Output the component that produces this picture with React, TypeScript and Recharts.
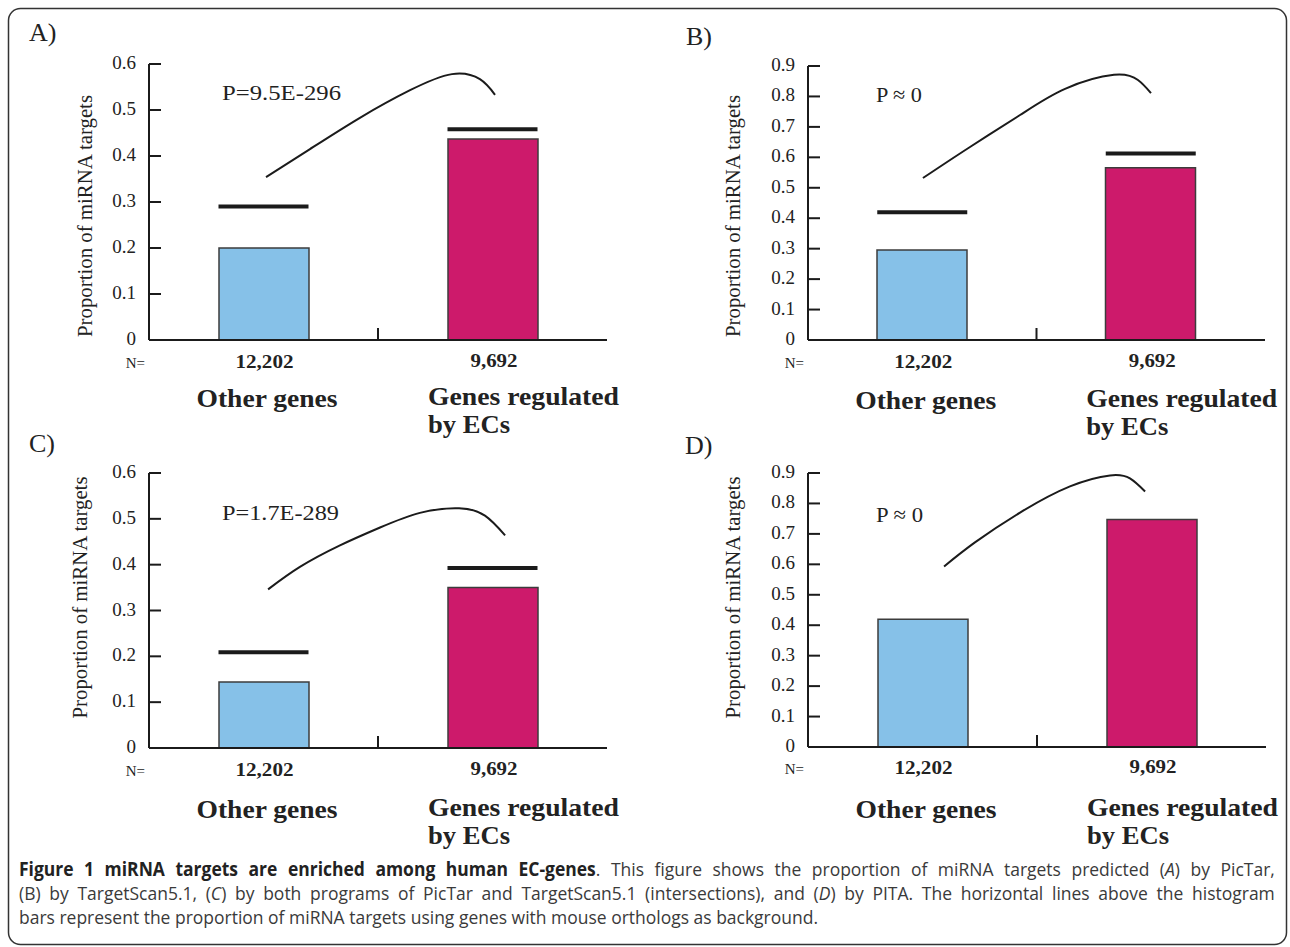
import React from 'react';
import { ComposedChart, Bar, Cell, Scatter, XAxis, YAxis } from 'recharts';

const SERIF = '"Liberation Serif", "Times New Roman", serif';
const SANS = '"Open Sans", "Noto Sans", sans-serif';
const INK = '#1b1b1b';
const BLUE = '#86C1E8';
const RED = '#CD1A6B';

const panelTags = ['A)', 'B)', 'C)', 'D)'];
const categories = ['Other genes', 'Genes regulated by ECs'];
const geneCounts = ['12,202', '9,692'];
const pLabels = ['P=9.5E-296', 'P \u2248 0', 'P=1.7E-289', 'P \u2248 0'];
const yLabel = 'Proportion of miRNA targets';
const yTicksLow = [0, 0.1, 0.2, 0.3, 0.4, 0.5, 0.6];
const yTicksHigh = [0, 0.1, 0.2, 0.3, 0.4, 0.5, 0.6, 0.7, 0.8, 0.9];
const panelTicks = [yTicksLow, yTicksHigh, yTicksLow, yTicksHigh];

// proportion of miRNA targets, human genes as background
const otherShare = [0.2, 0.296, 0.144, 0.42];
const ecShare = [0.437, 0.566, 0.35, 0.747];
// same with mouse orthologs as background (panel D has none)
const otherMouse = [0.29, 0.42, 0.209, null];
const ecMouse = [0.458, 0.613, 0.393, null];

// the arc joining the two bars; x runs 0..2 with the bars at 0.5 and 1.5
const arcA = [[0.511, 0.354], [0.703, 0.415], [0.921, 0.483], [1.14, 0.543], [1.323, 0.578], [1.445, 0.567], [1.511, 0.533]];
const arcB = [[0.503, 0.532], [0.709, 0.634], [0.928, 0.739], [1.125, 0.825], [1.339, 0.871], [1.444, 0.854], [1.501, 0.811]];
const arcC = [[0.52, 0.346], [0.659, 0.395], [0.834, 0.442], [1.009, 0.481], [1.183, 0.513], [1.354, 0.523], [1.467, 0.507], [1.555, 0.464]];
const arcD = [[0.594, 0.593], [0.729, 0.672], [0.926, 0.77], [1.144, 0.856], [1.319, 0.892], [1.406, 0.882], [1.472, 0.839]];
const arcs = [arcA, arcB, arcC, arcD];

const frames = [
  { left: 0, top: 0, margin: { top: 64, right: 38, bottom: 0, left: 89 }, countDy: 27.5, nameDy: 67,
    tag: [29, 41], label: [85, 216], p: [222, 100, 119] },
  { left: 645, top: 0, margin: { top: 66, right: 25, bottom: 0, left: 103 }, countDy: 28, nameDy: 68.5,
    tag: [686, 45], label: [733, 216], p: [876, 101.5, 46] },
  { left: 0, top: 430, margin: { top: 43, right: 38, bottom: 22, left: 89 }, countDy: 28, nameDy: 69.5,
    tag: [29, 452], label: [80, 597.5], p: [222, 520, 117] },
  { left: 645, top: 430, margin: { top: 43, right: 24, bottom: 23, left: 103 }, countDy: 27, nameDy: 70.5,
    tag: [685, 454], label: [733, 597.5], p: [876, 521.5, 47] },
];

const YTick = ({ x, y, payload }: any) => (
  <g>
    <line x1={x + 13} x2={x + 25} y1={y} y2={y} stroke={INK} strokeWidth={2} />
    <text x={x} y={y + 5} textAnchor="end" fontFamily={SERIF} fontSize={19} fill="#222">
      {payload.value}
    </text>
  </g>
);

const XTick = ({ x, y, payload, index, frame }: any) => {
  const half = payload.offset || 114.5;
  const bold = { fontFamily: SERIF, fontWeight: 'bold' as const, fill: '#222', lengthAdjust: 'spacingAndGlyphs' };
  if (index === 0) {
    return (
      <g>
        <line x1={x + half} x2={x + half} y1={y} y2={y - 12} stroke={INK} strokeWidth={2} />
        <text x={x - half - 4} y={y + frame.countDy} textAnchor="end" fontFamily={SERIF} fontSize={15} fill="#222">N=</text>
        <text {...bold} x={x + 1} y={y + frame.countDy} textAnchor="middle" fontSize={19} textLength={58}>{geneCounts[0]}</text>
        <text {...bold} x={x + 3.5} y={y + frame.nameDy} textAnchor="middle" fontSize={26} textLength={141}>{categories[0]}</text>
      </g>
    );
  }
  const cut = categories[1].indexOf(' by ');
  return (
    <g>
      <text {...bold} x={x + 1.5} y={y + frame.countDy - 1} textAnchor="middle" fontSize={19} textLength={47}>{geneCounts[1]}</text>
      <text {...bold} x={x - 64.5} y={y + frame.nameDy - 2} fontSize={26} textLength={191}>{categories[1].slice(0, cut)}</text>
      <text {...bold} x={x - 64.5} y={y + frame.nameDy + 26} fontSize={26} textLength={82}>{categories[1].slice(cut + 1)}</text>
    </g>
  );
};

function Panel({ i }: { i: number }) {
  const f = frames[i];
  const rows = [
    { name: categories[0], value: otherShare[i], bg: otherMouse[i] },
    { name: categories[1], value: ecShare[i], bg: ecMouse[i] },
  ];
  const arc = arcs[i].map(([x, y]) => ({ x, y }));
  const ticks = panelTicks[i];
  return (
    <div style={{ position: 'absolute', left: f.left, top: f.top }}>
      <ComposedChart width={645} height={440} data={rows} margin={f.margin}>
        <XAxis
          dataKey="name"
          type="category"
          height={100}
          interval={0}
          tickSize={0}
          tickMargin={0}
          tickLine={false}
          axisLine={{ stroke: INK, strokeWidth: 2 }}
          tick={(p: any) => <XTick {...p} frame={f} />}
        />
        <XAxis xAxisId="arc" type="number" dataKey="x" domain={[0, 2]} allowDataOverflow hide />
        <YAxis
          type="number"
          domain={[0, ticks[ticks.length - 1]]}
          ticks={ticks}
          width={60}
          interval={0}
          tickSize={0}
          tickMargin={13}
          tickLine={false}
          axisLine={{ stroke: INK, strokeWidth: 2 }}
          tick={(p: any) => <YTick {...p} />}
        />
        <Bar dataKey="value" barSize={90} stroke="#3c3c3c" strokeWidth={1.5} isAnimationActive={false}>
          {rows.map((r, k) => (
            <Cell key={r.name} fill={k === 0 ? BLUE : RED} />
          ))}
        </Bar>
        <Scatter
          dataKey="bg"
          isAnimationActive={false}
          shape={(p: any) =>
            p.payload && p.payload.bg != null ? (
              <line x1={p.cx - 45} x2={p.cx + 45} y1={p.cy} y2={p.cy} stroke={INK} strokeWidth={4} />
            ) : (
              <g />
            )
          }
        />
        <Scatter
          xAxisId="arc"
          data={arc}
          dataKey="y"
          isAnimationActive={false}
          line={{ stroke: INK, strokeWidth: 2 }}
          lineJointType="natural"
          shape={() => <g />}
        />
      </ComposedChart>
    </div>
  );
}

const lineStyle = { whiteSpace: 'nowrap' as const, textAlign: 'justify' as const, textAlignLast: 'justify' as const };

export default function App() {
  return (
    <div style={{ position: 'absolute', left: 0, top: 0, width: 1290, height: 947, background: '#fff', overflow: 'hidden' }}>
      <svg width={1290} height={947} style={{ position: 'absolute', left: 0, top: 0 }}>
        <rect x={8.5} y={8.5} width={1278} height={936} rx={12} fill="none" stroke="#333" strokeWidth={1.5} />
        {frames.map((f, i) => (
          <g key={panelTags[i]} fontFamily={SERIF} fill="#222">
            <text x={f.tag[0]} y={f.tag[1]} fontSize={26}>{panelTags[i]}</text>
            <text
              transform={`translate(${f.label[0]},${f.label[1]}) rotate(-90)`}
              textAnchor="middle"
              dominantBaseline="central"
              fontSize={20}
              textLength={242}
              lengthAdjust="spacingAndGlyphs"
            >
              {yLabel}
            </text>
            <text x={f.p[0]} y={f.p[1]} fontSize={22} textLength={f.p[2]} lengthAdjust="spacingAndGlyphs">
              {pLabels[i]}
            </text>
          </g>
        ))}
      </svg>
      {[0, 1, 2, 3].map((i) => (
        <Panel key={i} i={i} />
      ))}
      <div
        style={{
          position: 'absolute', left: 19, top: 857, width: 1365, transform: 'scaleX(0.92)', transformOrigin: '0 0',
          fontFamily: SANS, fontSize: 19, lineHeight: '24px', color: '#3a3a3a',
        }}
      >
        <div style={lineStyle}>
          <b style={{ color: '#222' }}>Figure 1 miRNA targets are enriched among human EC-genes</b>. This figure shows the proportion of miRNA targets predicted (<i>A</i>) by PicTar,
        </div>
        <div style={lineStyle}>
          (B) by TargetScan5.1, (<i>C</i>) by both programs of PicTar and TargetScan5.1 (intersections), and (<i>D</i>) by PITA. The horizontal lines above the histogram
        </div>
        <div style={{ whiteSpace: 'nowrap' }}>bars represent the proportion of miRNA targets using genes with mouse orthologs as background.</div>
      </div>
    </div>
  );
}
